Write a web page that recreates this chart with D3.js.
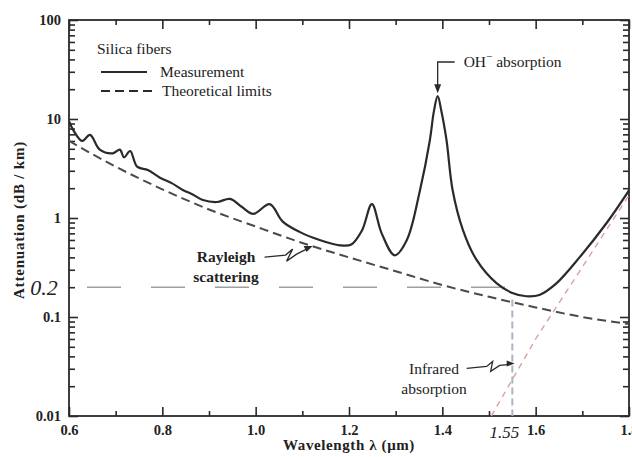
<!DOCTYPE html>
<html>
<head>
<meta charset="utf-8">
<script src="https://cdn.jsdelivr.net/npm/d3@7"></script>
<style>
  body { margin: 0; background: #fff; }
  svg { display: block; }
  text { font-family: "Liberation Serif", "Times New Roman", serif; fill: #222; }
</style>
</head>
<body>
<svg id="chart" width="632" height="457"></svg>
<script>
const measWl = [0.600, 0.610, 0.628, 0.645, 0.666, 0.694, 0.709, 0.718, 0.731, 0.746, 0.769, 0.795,
    0.820, 0.844, 0.866, 0.887, 0.917, 0.945, 0.970, 0.995, 1.030, 1.058, 1.095, 1.137, 1.180,
    1.205, 1.228, 1.249, 1.270, 1.298, 1.324, 1.352, 1.373, 1.382, 1.390, 1.398, 1.409, 1.422,
    1.444, 1.473, 1.516, 1.550, 1.580, 1.608, 1.645, 1.694, 1.752, 1.800];
const measVal = [9.5, 7.6, 6.0, 6.9, 4.9, 4.5, 4.9, 4.1, 4.75, 3.3, 3.05, 2.55,
    2.25, 1.92, 1.72, 1.52, 1.45, 1.56, 1.3, 1.1, 1.38, 0.92, 0.72, 0.6, 0.53,
    0.54, 0.75, 1.38, 0.7, 0.42, 0.6, 1.9, 6.0, 12, 17, 12, 6.1, 1.92,
    0.76, 0.38, 0.22, 0.175, 0.162, 0.167, 0.22, 0.4, 0.89, 1.9];

// Rayleigh scattering limit
const rayWl = [0.6, 0.7, 0.8, 0.9, 1.0, 1.1, 1.2, 1.3, 1.4, 1.5, 1.6, 1.7, 1.8];
const rayVal = [6.0, 3.3, 1.95, 1.22, 0.82, 0.56, 0.4, 0.29, 0.21, 0.16, 0.125, 0.1, 0.085];

// Infrared absorption limit
const irWl = [1.505, 1.6, 1.7, 1.8];
const irVal = [0.01, 0.06, 0.32, 1.7];

const xMajor = [0.6, 0.8, 1.0, 1.2, 1.4, 1.6, 1.8];
const xMinor = [0.7, 0.9, 1.1, 1.3, 1.5, 1.7];
const yMajor = [0.01, 0.1, 1, 10, 100];
const yLabels = ["0.01", "0.1", "1", "10", "100"];

const svg = d3.select("#chart");
const ink = "#2a2a2a";

const x = d3.scaleLinear().domain([0.6, 1.8]).range([69, 629]);
const y = d3.scaleLog().domain([0.01, 100]).range([416, 20]);

const yMinor = [];
[0.01, 0.1, 1, 10].forEach(d => { for (let k = 2; k <= 9; k++) yMinor.push(d * k); });

svg.append("defs").append("clipPath").attr("id", "plot")
    .append("rect").attr("x", 69).attr("y", 20).attr("width", 560).attr("height", 396);

// Axes (ticks point inward)
function styleAxis(g) {
    g.select(".domain").remove();
    g.selectAll(".tick line").attr("stroke", ink).attr("stroke-width", 1.6);
    g.selectAll(".tick text").attr("font-size", 14.5).attr("font-weight", "bold")
        .attr("font-family", "Liberation Serif, serif").attr("fill", "#333");
}

svg.append("g").attr("transform", "translate(0,416)")
    .call(d3.axisBottom(x).tickValues(xMajor).tickSizeInner(-9).tickSizeOuter(0).tickPadding(9)
        .tickFormat(d3.format(".1f")))
    .call(styleAxis);
svg.append("g").attr("transform", "translate(0,416)")
    .call(d3.axisBottom(x).tickValues(xMinor).tickSizeInner(-5).tickSizeOuter(0).tickFormat(""))
    .call(styleAxis);
svg.append("g").attr("transform", "translate(0,20)")
    .call(d3.axisTop(x).tickValues(xMajor).tickSizeInner(-9).tickSizeOuter(0).tickFormat(""))
    .call(styleAxis);
svg.append("g").attr("transform", "translate(0,20)")
    .call(d3.axisTop(x).tickValues(xMinor).tickSizeInner(-5).tickSizeOuter(0).tickFormat(""))
    .call(styleAxis);

svg.append("g").attr("transform", "translate(69,0)")
    .call(d3.axisLeft(y).tickValues(yMajor).tickSizeInner(-9).tickSizeOuter(0).tickPadding(8)
        .tickFormat((d, i) => yLabels[i]))
    .call(styleAxis);
svg.append("g").attr("transform", "translate(69,0)")
    .call(d3.axisLeft(y).tickValues(yMinor).tickSizeInner(-6).tickSizeOuter(0).tickFormat(""))
    .call(styleAxis);
svg.append("g").attr("transform", "translate(629,0)")
    .call(d3.axisRight(y).tickValues(yMajor).tickSizeInner(-9).tickSizeOuter(0).tickFormat(""))
    .call(styleAxis);
svg.append("g").attr("transform", "translate(629,0)")
    .call(d3.axisRight(y).tickValues(yMinor).tickSizeInner(-6).tickSizeOuter(0).tickFormat(""))
    .call(styleAxis);

// Frame
svg.append("rect")
    .attr("x", x(0.6)).attr("y", y(100))
    .attr("width", x(1.8) - x(0.6)).attr("height", y(0.01) - y(100))
    .attr("fill", "none").attr("stroke", ink).attr("stroke-width", 1.8);

const plot = svg.append("g").attr("clip-path", "url(#plot)");

// Handwritten notes on the scan
plot.append("line")
    .attr("x1", x(0.6)).attr("x2", x(1.55)).attr("y1", y(0.2)).attr("y2", y(0.2))
    .attr("stroke", "#777").attr("stroke-width", 1.6).attr("stroke-dasharray", "34,30")
    .attr("stroke-dashoffset", -18).attr("opacity", 0.7);
plot.append("line")
    .attr("x1", x(1.55)).attr("x2", x(1.55)).attr("y1", y(0.15)).attr("y2", y(0.01))
    .attr("stroke", "#aab4c4").attr("stroke-width", 2).attr("stroke-dasharray", "7,4");

// Infrared absorption (faint red dashes)
plot.append("path")
    .attr("d", d3.line().x((d, i) => x(irWl[i])).y(d => y(d))(irVal))
    .attr("fill", "none").attr("stroke", "#d8a2a2").attr("stroke-width", 1.4)
    .attr("stroke-dasharray", "6,5");

// Rayleigh limit
plot.append("path")
    .attr("d", d3.line().x((d, i) => x(rayWl[i])).y(d => y(d)).curve(d3.curveMonotoneX)(rayVal))
    .attr("fill", "none").attr("stroke", "#4a4a4a").attr("stroke-width", 2)
    .attr("stroke-dasharray", "9,5");

// Measurement
plot.append("path")
    .attr("d", d3.line().x((d, i) => x(measWl[i])).y(d => y(d)).curve(d3.curveCatmullRom.alpha(0.5))(measVal))
    .attr("fill", "none").attr("stroke", ink).attr("stroke-width", 2.2);

// Legend
const fs = 15.5;
svg.append("text").attr("x", 97).attr("y", 54).attr("font-size", fs).text("Silica fibers");
svg.append("line").attr("x1", 101).attr("x2", 147).attr("y1", 72).attr("y2", 72)
    .attr("stroke", ink).attr("stroke-width", 2);
svg.append("text").attr("x", 160).attr("y", 77).attr("font-size", fs).text("Measurement");
svg.append("line").attr("x1", 101).attr("x2", 156).attr("y1", 91).attr("y2", 91)
    .attr("stroke", ink).attr("stroke-width", 2).attr("stroke-dasharray", "9,5");
svg.append("text").attr("x", 162).attr("y", 96).attr("font-size", fs).text("Theoretical limits");

// OH- absorption callout
const ohX = x(1.39);
svg.append("path")
    .attr("d", `M${ohX + 17},62 H${ohX} V${y(17) - 6}`)
    .attr("fill", "none").attr("stroke", ink).attr("stroke-width", 1.3);
svg.append("path")
    .attr("d", `M${ohX - 3.5},${y(17) - 12} L${ohX + 3.5},${y(17) - 12} L${ohX},${y(17) - 3} Z`)
    .attr("fill", ink);
const oh = svg.append("text").attr("x", ohX + 26).attr("y", 67).attr("font-size", fs);
oh.append("tspan").text("OH");
oh.append("tspan").attr("dy", -7).attr("font-size", 11).text("−");
oh.append("tspan").attr("dy", 7).text(" absorption");

// Rayleigh scattering label and squiggle arrow
svg.append("text").attr("x", 226).attr("y", 262).attr("font-size", fs).attr("font-weight", "bold")
    .attr("text-anchor", "middle").text("Rayleigh");
svg.append("text").attr("x", 226).attr("y", 282).attr("font-size", fs).attr("font-weight", "bold")
    .attr("text-anchor", "middle").text("scattering");
const rTipX = x(1.122), rTipY = y(0.52);
svg.append("path")
    .attr("d", `M${rTipX - 48},${rTipY + 11} L${rTipX - 27},${rTipY + 9} L${rTipX - 20},${rTipY + 3} L${rTipX - 26},${rTipY + 15} L${rTipX - 16},${rTipY + 8} L${rTipX - 4},${rTipY + 2}`)
    .attr("fill", "none").attr("stroke", ink).attr("stroke-width", 1.3);
svg.append("path")
    .attr("d", `M${rTipX},${rTipY} l-9,0 l3,6 Z`).attr("fill", ink);

// Infrared absorption label and squiggle arrow
svg.append("text").attr("x", 434).attr("y", 374).attr("font-size", fs)
    .attr("text-anchor", "middle").text("Infrared");
svg.append("text").attr("x", 434).attr("y", 394).attr("font-size", fs)
    .attr("text-anchor", "middle").text("absorption");
const iTipX = x(1.555), iTipY = y(0.034);
svg.append("path")
    .attr("d", `M${iTipX - 48},${iTipY + 5} L${iTipX - 28},${iTipY + 3} L${iTipX - 22},${iTipY - 2} L${iTipX - 24},${iTipY + 8} L${iTipX - 15},${iTipY + 2} L${iTipX - 4},${iTipY + 1}`)
    .attr("fill", "none").attr("stroke", ink).attr("stroke-width", 1.3);
svg.append("path")
    .attr("d", `M${iTipX},${iTipY} l-8,-3 l0,6 Z`).attr("fill", ink);

// Axis titles
svg.append("text").attr("transform", "translate(24,220) rotate(-90)")
    .attr("text-anchor", "middle").attr("font-size", 15).attr("font-weight", "bold")
    .attr("letter-spacing", 0.8).attr("fill", "#333")
    .text("Attenuation  (dB / km)");
svg.append("text").attr("x", 349).attr("y", 450)
    .attr("text-anchor", "middle").attr("font-size", 15).attr("font-weight", "bold")
    .attr("letter-spacing", 0.6).attr("fill", "#333")
    .text("Wavelength  λ  (μm)");

// Handwritten labels
svg.append("text").attr("x", 44).attr("y", y(0.2) + 8).attr("text-anchor", "middle")
    .attr("font-size", 22).attr("font-style", "italic").attr("font-family", "DejaVu Sans, sans-serif")
    .attr("fill", "#3a3a3a").text("0.2");
svg.append("text").attr("x", x(1.55) - 8).attr("y", 438).attr("text-anchor", "middle")
    .attr("font-size", 17).attr("font-style", "italic").attr("font-family", "DejaVu Sans, sans-serif")
    .attr("fill", "#b4bac4").text("1.55");
</script>
</body>
</html>
